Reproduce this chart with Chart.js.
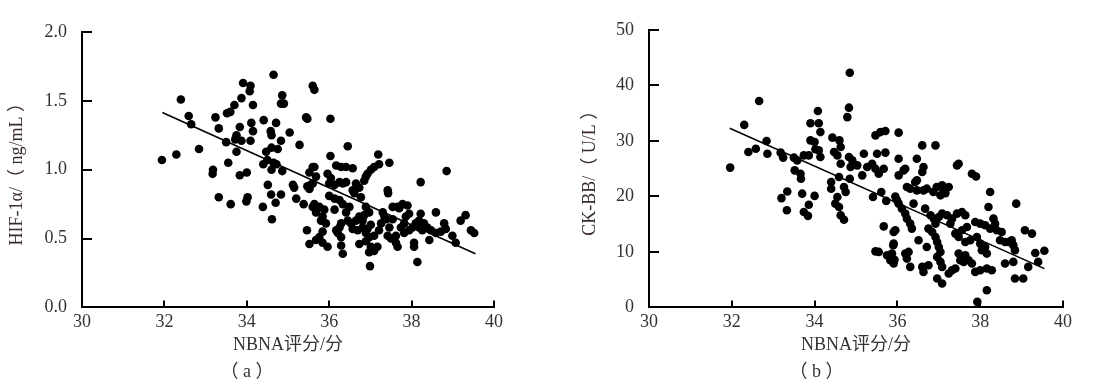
<!DOCTYPE html>
<html>
<head>
<meta charset="utf-8">
<script src="https://cdn.jsdelivr.net/npm/chart.js@4/dist/chart.umd.min.js"></script>
<style>
  body { margin: 0; background: #fff; width: 1093px; height: 392px; position: relative; overflow: hidden; }
  canvas { position: absolute; top: 0; }
  #chartA { left: 0; }
  #chartB { left: 570px; }
</style>
</head>
<body>
<canvas id="chartA" width="512" height="392"></canvas>
<canvas id="chartB" width="522" height="392"></canvas>
<script>
const xTickLabels = ["30", "32", "34", "36", "38", "40"];
const yTickLabelsA = ["0.0", "0.5", "1.0", "1.5", "2.0"];
const yTickLabelsB = ["0", "10", "20", "30", "40", "50"];

// (a) NBNA score vs HIF-1α
const nbnaHif = [
  [31.94,1.07],[32.29,1.11],[32.40,1.51],[32.59,1.39],[32.65,1.33],[32.84,1.15],[33.18,1.00],[33.17,0.97],
  [33.32,0.80],[33.24,1.38],[33.32,1.30],[33.55,1.05],[33.61,0.75],[33.52,1.41],[33.60,1.42],[33.70,1.47],
  [33.87,1.52],[33.91,1.63],[34.09,1.61],[34.07,1.57],[34.15,1.47],[33.83,1.31],[33.75,1.25],[33.72,1.22],
  [33.50,1.20],[33.87,1.21],[33.75,1.13],[34.11,1.34],[34.15,1.28],[34.09,1.21],[33.83,0.96],[34.00,0.98],
  [33.99,0.77],[34.02,0.80],[34.41,1.36],[34.71,1.34],[34.65,1.69],[34.86,1.54],[34.83,1.48],[34.90,1.48],
  [34.58,1.28],[34.60,1.25],[34.83,1.21],[35.04,1.27],[35.28,1.18],[34.47,1.13],[34.60,1.16],[34.75,1.15],
  [34.50,1.07],[34.65,1.05],[34.72,1.04],[34.40,1.04],[34.60,1.00],[34.86,0.99],[34.51,0.89],[34.59,0.82],
  [34.83,0.82],[34.70,0.76],[34.39,0.73],[34.61,0.64],[35.12,0.89],[35.15,0.87],[35.20,0.79],[35.38,0.75],
  [35.44,1.38],[35.47,1.37],[35.46,0.56],[35.52,0.46],[35.60,1.61],[35.64,1.58],[35.52,0.98],[35.60,1.02],
  [35.47,0.88],[35.55,0.89],[35.60,0.73],
  [36.03,1.37],[36.45,1.17],[36.03,1.10],[37.19,1.11],[37.46,1.05],[37.21,1.04],[37.09,1.02],[37.01,1.00],
  [36.93,0.97],[36.89,0.95],[36.85,0.92],[36.17,1.03],[36.29,1.02],[36.41,1.02],[36.57,1.01],[38.85,0.99],
  [38.22,0.91],[37.42,0.85],[37.43,0.83],[35.64,1.02],[35.68,0.95],[35.60,0.90],[35.52,0.86],[35.96,0.97],
  [36.04,0.94],[36.00,0.90],[36.13,0.89],[36.25,0.91],[36.33,0.90],[36.41,0.91],[36.65,0.90],[36.73,0.87],
  [36.61,0.83],[36.57,0.85],[36.77,0.80],[36.00,0.81],[36.13,0.79],[36.25,0.78],[36.33,0.75],[35.64,0.75],
  [35.76,0.73],[35.88,0.71],[35.68,0.69],[36.49,0.73],[36.41,0.69],[36.89,0.73],[36.97,0.69],[36.13,0.71],
  [35.84,0.66],[35.80,0.63],[35.92,0.61],[36.29,0.61],[36.25,0.58],[36.17,0.56],[36.21,0.54],[36.29,0.51],
  [35.84,0.55],[35.76,0.51],[35.68,0.49],[35.84,0.47],[35.96,0.44],[36.29,0.45],[36.33,0.39],[36.45,0.63],
  [36.53,0.61],[36.65,0.63],[36.73,0.66],[36.81,0.63],[36.85,0.67],[36.57,0.57],[36.69,0.56],[36.81,0.58],
  [36.93,0.57],[37.01,0.60],[36.73,0.46],[36.89,0.48],[37.01,0.44],[37.09,0.41],[36.97,0.40],[37.17,0.44],
  [36.99,0.30],[36.89,0.54],[36.97,0.51],[37.09,0.52],[37.21,0.56],[37.26,0.61],[37.34,0.66],[37.30,0.69],
  [37.46,0.58],[37.42,0.52],[37.50,0.50],[37.62,0.52],[37.66,0.44],[37.62,0.47],[37.70,0.72],[37.78,0.75],
  [37.90,0.74],[37.94,0.68],[37.86,0.66],[37.82,0.61],[37.74,0.58],[37.82,0.54],[37.94,0.56],[38.02,0.58],
  [38.10,0.61],[38.18,0.63],[38.22,0.68],[38.18,0.58],[38.26,0.56],[38.30,0.61],[38.38,0.58],[38.06,0.47],
  [38.06,0.44],[38.14,0.33],[38.43,0.49],[38.59,0.69],[38.47,0.56],[38.59,0.54],[38.71,0.55],[38.79,0.61],
  [38.83,0.57],[38.99,0.52],[39.07,0.47],[39.19,0.63],[39.31,0.67],[39.44,0.56],[39.52,0.54],[37.54,0.73],
  [37.66,0.73],[37.38,0.64],[37.54,0.64]
];
const fitHif = [[31.95, 1.415], [39.55, 0.39]];

// (b) NBNA score vs CK-BB
const nbnaCk = [
  [31.96,25.2],[32.66,37.2],[32.30,32.9],[32.40,28.0],[32.58,28.6],[32.84,30.0],[32.86,27.7],[33.18,27.9],
  [33.24,27.0],[33.20,19.7],[33.34,20.9],[33.33,17.5],[33.50,27.0],[33.58,26.5],[33.52,24.7],[33.66,24.1],
  [33.67,23.2],[33.70,20.5],[33.86,18.5],[33.74,17.2],[33.84,16.5],[34.00,20.1],[33.74,27.4],[33.86,27.4],
  [33.90,30.1],[34.00,29.8],[33.90,33.2],[34.10,33.2],[34.14,31.6],[34.08,35.4],[34.02,28.5],[34.10,28.3],
  [34.14,27.1],[34.43,30.6],[34.60,30.1],[34.63,28.9],[34.47,28.0],[34.55,27.4],[34.85,42.3],[34.83,36.0],
  [34.79,34.3],[34.59,23.5],[34.40,22.6],[34.40,21.4],[34.71,21.7],[34.75,20.8],[34.55,19.9],[34.59,18.1],
  [34.63,16.6],[34.71,15.8],[34.50,18.7],[34.63,25.9],[34.83,27.1],[34.91,26.5],[34.87,25.3],[35.03,25.6],
  [35.19,27.7],[35.15,23.8],[35.27,25.3],[35.39,25.9],[35.47,25.0],[35.55,24.1],[35.67,25.0],[35.51,27.7],
  [35.71,27.9],[34.85,23.2],[35.47,31.0],[35.59,31.6],[35.71,31.8],[36.03,31.5],[35.41,19.9],[35.61,20.8],
  [35.73,19.2],[35.95,20.0],[35.99,19.3],[35.67,14.6],[35.91,13.6],[35.90,11.2],[35.47,10.1],[35.55,10.0],
  [35.75,9.4],[35.83,8.5],[35.91,7.9],[36.03,26.8],[36.03,23.8],
  [36.60,29.2],[36.92,29.2],[36.15,24.7],[36.19,25.0],[36.47,26.8],[36.63,25.3],[36.60,24.4],[36.47,22.9],
  [36.43,22.6],[37.44,25.6],[37.48,25.9],[37.80,24.1],[37.90,23.6],[38.24,20.8],[38.87,18.7],[38.20,18.1],
  [36.23,21.7],[36.31,21.4],[36.47,21.1],[36.63,21.1],[36.71,21.4],[36.87,20.8],[36.95,21.7],[37.08,22.0],
  [37.12,21.1],[37.24,21.7],[37.04,20.2],[37.16,20.6],[36.03,18.7],[36.11,17.8],[36.19,16.9],[36.23,16.0],
  [36.31,15.1],[36.35,14.2],[36.39,18.7],[36.67,17.8],[35.95,13.9],[35.91,11.5],[35.87,9.7],[35.93,8.6],
  [36.19,9.7],[36.27,10.0],[36.23,8.8],[36.31,7.3],[36.51,12.1],[36.71,10.9],[36.60,7.3],[36.63,6.4],
  [36.75,7.6],[36.80,16.6],[36.88,16.0],[36.92,15.1],[37.00,16.3],[37.08,16.9],[37.20,16.6],[37.32,16.0],
  [37.28,15.1],[36.75,14.2],[36.84,13.6],[36.92,12.7],[36.96,11.8],[37.00,10.9],[37.04,10.0],[36.96,9.1],
  [37.04,8.2],[37.08,7.3],[36.96,5.2],[37.08,4.3],[37.24,6.1],[37.32,6.7],[37.40,7.0],[37.44,16.9],
  [37.56,17.2],[37.64,16.6],[37.40,13.3],[37.48,12.7],[37.56,13.9],[37.68,14.5],[37.64,11.8],[37.76,12.1],
  [37.48,9.7],[37.52,8.5],[37.64,9.4],[37.60,8.2],[37.72,8.5],[37.80,7.9],[37.88,6.4],[38.00,6.7],
  [38.16,7.0],[38.28,6.7],[38.16,3.1],[37.93,1.0],[37.88,15.4],[38.00,15.1],[38.12,14.8],[38.24,14.2],
  [38.36,15.1],[38.32,16.0],[38.40,13.9],[38.52,13.6],[38.48,12.1],[38.60,11.8],[38.68,11.8],[38.76,12.1],
  [38.80,11.2],[38.84,10.3],[37.92,12.7],[38.00,11.5],[38.12,10.9],[38.16,9.7],[38.04,10.3],[38.60,7.9],
  [38.80,8.2],[38.84,5.2],[39.04,5.2],[39.08,13.9],[39.25,13.3],[39.16,7.3],[39.33,9.8],[39.40,8.2],
  [39.55,10.2]
];
const fitCk = [[31.95, 32.3], [39.55, 7.0]];

const serif = "'Liberation Serif', 'Noto Sans CJK SC', serif";
const textColor = "#333";

// tick marks pointing into the plot area
const innerTicks = {
  id: "innerTicks",
  afterDraw(chart) {
    const { ctx, chartArea, scales } = chart;
    ctx.save();
    ctx.strokeStyle = "#000";
    ctx.lineWidth = 2;
    scales.x.ticks.forEach((t) => {
      const px = Math.round(scales.x.getPixelForValue(t.value));
      ctx.beginPath();
      ctx.moveTo(px, chartArea.bottom);
      ctx.lineTo(px, chartArea.bottom - 7);
      ctx.stroke();
    });
    scales.y.ticks.forEach((t) => {
      const py = Math.round(scales.y.getPixelForValue(t.value));
      ctx.beginPath();
      ctx.moveTo(chartArea.left, py);
      ctx.lineTo(chartArea.left + 10, py);
      ctx.stroke();
    });
    ctx.restore();
  },
};

function makeChart(id, points, fit, yMax, yStep, yLabels, yTitle, yWidth, yTitlePad, padRight, padTop, caption) {
  const ctx = document.getElementById(id).getContext("2d");
  return new Chart(ctx, {
    type: "scatter",
    data: {
      datasets: [
        {
          data: points.map((p) => ({ x: p[0], y: p[1] })),
          backgroundColor: "#000",
          borderColor: "#000",
          pointRadius: 4.3,
          pointBorderWidth: 0,
        },
        {
          type: "line",
          data: fit.map((p) => ({ x: p[0], y: p[1] })),
          borderColor: "#000",
          borderWidth: 1.5,
          pointRadius: 0,
          fill: false,
        },
      ],
    },
    options: {
      responsive: false,
      animation: false,
      devicePixelRatio: 1,
      layout: { padding: { left: 0, right: padRight, top: padTop, bottom: 0 } },
      plugins: {
        legend: { display: false },
        tooltip: { enabled: false },
        title: {
          display: true,
          position: "bottom",
          text: caption,
          color: textColor,
          font: { family: serif, size: 18, weight: "normal" },
          padding: { top: 4, bottom: 9 },
        },
      },
      scales: {
        x: {
          type: "linear",
          min: 30,
          max: 40,
          grid: { display: false, drawTicks: false },
          border: { display: true, color: "#000", width: 2 },
          ticks: {
            stepSize: 2,
            padding: 4,
            color: textColor,
            font: { family: serif, size: 18 },
            maxRotation: 0,
            callback: (v, i) => xTickLabels[i],
          },
          title: {
            display: true,
            text: "NBNA评分/分",
            color: textColor,
            font: { family: serif, size: 18 },
            padding: { top: 0, bottom: 1 },
          },
          afterFit: (s) => { s.height = 50; },
        },
        y: {
          min: 0,
          max: yMax,
          grid: { display: false, drawTicks: false },
          border: { display: true, color: "#000", width: 2 },
          ticks: {
            stepSize: yStep,
            padding: 15,
            color: textColor,
            font: { family: serif, size: 18 },
            callback: (v, i) => yLabels[i],
          },
          title: {
            display: true,
            text: yTitle,
            color: "#3a2c2c",
            font: { family: serif, size: 18 },
            padding: { top: yTitlePad, bottom: 0 },
          },
          afterFit: (s) => { s.width = yWidth; },
        },
      },
    },
    plugins: [innerTicks],
  });
}

makeChart("chartA", nbnaHif, fitHif, 2, 0.5, yTickLabelsA, "HIF-1α/（ ng/mL ）", 82, 6, 18, 32, "（ a ）");
makeChart("chartB", nbnaCk, fitCk, 50, 10, yTickLabelsB, "CK-BB/（ U/L ）", 79, 9, 29, 30, "（ b ）");
</script>
</body>
</html>
